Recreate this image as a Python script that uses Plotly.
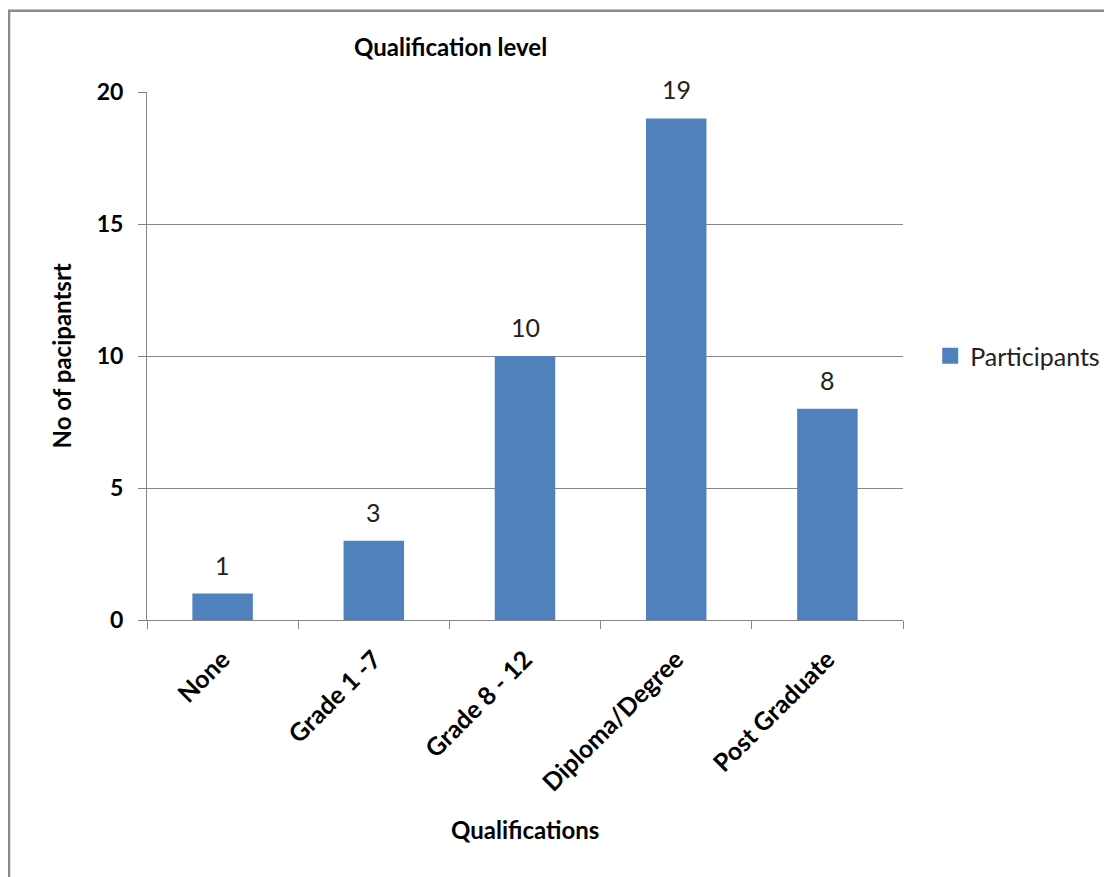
import plotly.graph_objects as go

# Chart data
categories = ["None", "Grade 1 -7", "Grade 8 - 12", "Diploma/Degree", "Post Graduate"]
participants = [1, 3, 10, 19, 8]
y_ticks = [0, 5, 10, 15, 20]
series_name = "Participants"

bar_color = "#4F81BD"
grid_color = "#868686"
font_family = "Lato, 'Open Sans', sans-serif"

positions = list(range(len(categories)))

fig = go.Figure()

fig.add_trace(go.Bar(
    x=positions,
    y=participants,
    name=series_name,
    marker=dict(color=bar_color, line=dict(width=0)),
    width=0.4,
    showlegend=False,
))
# legend entry with a larger square swatch
fig.add_trace(go.Scatter(
    x=[None], y=[None], mode="markers", name=series_name,
    marker=dict(symbol="square", size=17, color=bar_color),
))

# value labels above the bars
for pos, val in zip(positions, participants):
    fig.add_annotation(
        x=pos, y=val, text=str(val), showarrow=False,
        yanchor="bottom", yshift=12,
        font=dict(size=25, color="#222222", family=font_family),
    )

# chart title, axis titles
fig.add_annotation(
    x=0.401, y=1.0, xref="paper", yref="paper", yshift=62,
    text="<b>Qualification level</b>", showarrow=False,
    font=dict(size=24, color="#000000", family=font_family),
)
fig.add_annotation(
    x=-0.135, y=0.5, xref="paper", yref="paper", textangle=-90,
    text="<b>No of pacipantsrt</b>", showarrow=False,
    font=dict(size=24, color="#000000", family=font_family),
)
fig.add_annotation(
    x=0.5, y=-0.428, xref="paper", yref="paper",
    text="<b>Qualifications</b>", showarrow=False,
    font=dict(size=24, color="#000000", family=font_family),
)

# outer chart frame (top and left edges visible)
fig.add_shape(
    type="rect", xref="paper", yref="paper",
    x0=-0.1825, y0=-0.7, x1=1.4, y1=1.154,
    line=dict(color="#898989", width=2.5), layer="below",
)

fig.update_layout(
    width=1112,
    height=877,
    margin=dict(l=139, r=217, t=84, b=265),
    paper_bgcolor="white",
    plot_bgcolor="white",
    font=dict(family=font_family, color="#000000"),
    showlegend=True,
    legend=dict(
        x=1.036, y=0.5, xanchor="left", yanchor="middle",
        font=dict(size=25, color="#222222", family=font_family),
        itemwidth=30,
    ),
    xaxis=dict(
        range=[-0.5, 4.5],
        tickvals=positions,
        ticktext=[f"<b>{c}</b>" for c in categories],
        tickangle=-45,
        ticks="",
        ticklabelstandoff=14,
        tickfont=dict(size=25, color="#000000"),
        showgrid=False,
        zeroline=False,
        showline=True,
        linecolor=grid_color,
        linewidth=1,
        minor=dict(tick0=-0.5, dtick=1, ticks="outside", ticklen=8,
                   tickcolor=grid_color, showgrid=False),
    ),
    yaxis=dict(
        range=[0, 20],
        tickvals=y_ticks,
        ticktext=[f"<b>{t}</b>" for t in y_ticks],
        ticks="outside",
        ticklen=8,
        tickcolor=grid_color,
        ticklabelstandoff=10,
        tickfont=dict(size=23, color="#000000"),
        showgrid=True,
        gridcolor=grid_color,
        gridwidth=1,
        zeroline=False,
        showline=True,
        linecolor=grid_color,
        linewidth=1,
    ),
)

fig.write_html("out.html")
